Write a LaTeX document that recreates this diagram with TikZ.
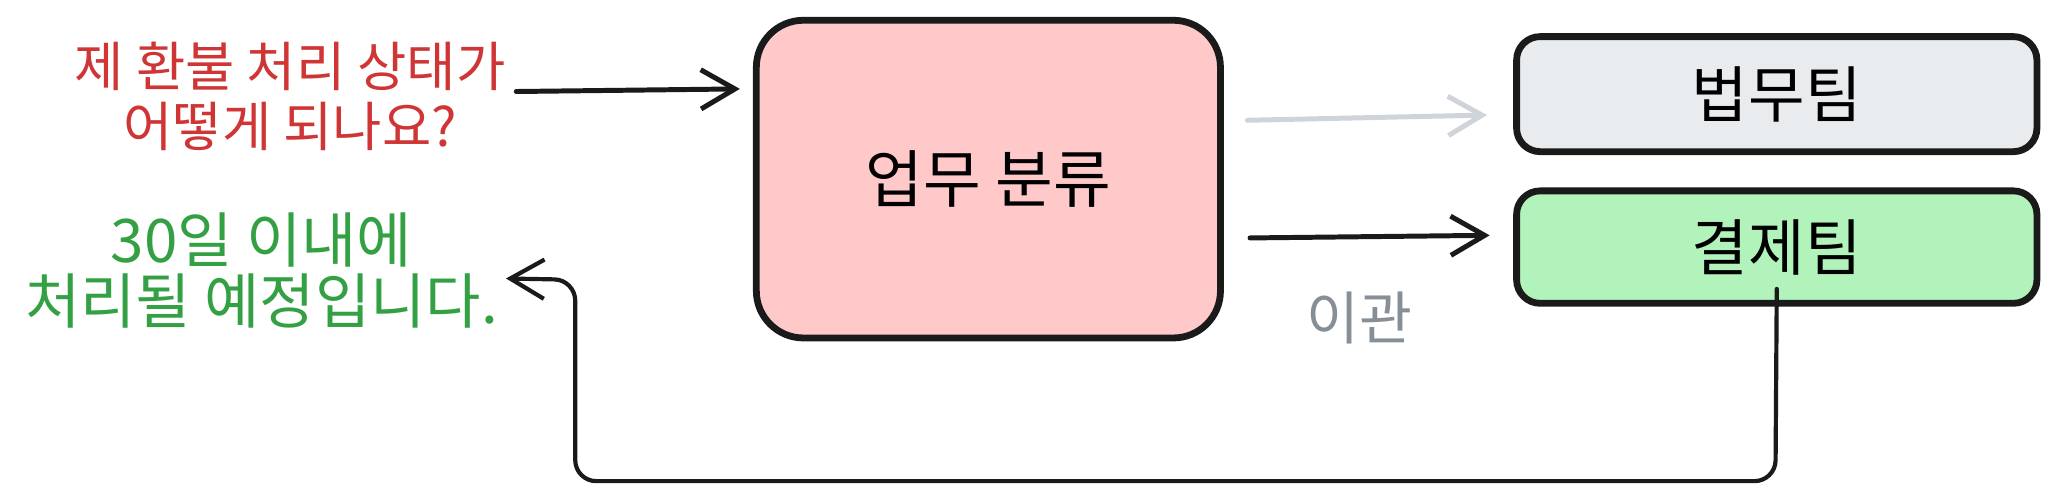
\documentclass[tikz,border=0pt]{standalone}
\usepackage{fontspec}
\setmainfont{Noto Sans CJK KR}
\usetikzlibrary{arrows.meta}
\definecolor{qred}{HTML}{D03535}
\definecolor{agreen}{HTML}{34A044}
\definecolor{pinkfill}{HTML}{FFC9C9}
\definecolor{grayfill}{HTML}{E9ECEF}
\definecolor{greenfill}{HTML}{B2F2BB}
\definecolor{lightarrow}{HTML}{CED4DA}
\definecolor{labelgray}{HTML}{868E96}
\definecolor{ink}{HTML}{1A1A1A}
\begin{document}
\begin{tikzpicture}[x=1pt,y=-1pt,
  box/.style={draw=ink, line width=5.2pt, rounded corners=#1, inner sep=0pt},
  arr/.style={line width=3.8pt, line cap=round, line join=round, draw=ink,
    -{Straight Barb[length=26pt,width=30pt]}},
  every node/.style={inner sep=0pt}]
\useasboundingbox (0,0) rectangle (1568,379.4);
\fill[white] (0,0) rectangle (1568,379.4);

\node[box=36pt, fill=pinkfill, minimum width=355pt, minimum height=243pt,
  font=\fontsize{48}{54}\selectfont] (sort) at (756,137) {업무 분류};
\node[box=18pt, fill=grayfill, minimum width=398pt, minimum height=88pt,
  font=\fontsize{47}{54}\selectfont] (legal) at (1359,72) {법무팀};
\node[box=18pt, fill=greenfill, minimum width=398pt, minimum height=86pt,
  font=\fontsize{47}{54}\selectfont] (pay) at (1359,189) {결제팀};

\node[align=center, text=qred, font=\fontsize{41}{46}\selectfont] (q) at (222,74)
  {제 환불 처리 상태가\\어떻게 되나요?};
\node[align=center, text=agreen, font=\fontsize{46}{47}\selectfont] (ans) at (200,207)
  {30일 이내에\\처리될 예정입니다.};

\node[text=labelgray, font=\fontsize{44}{50}\selectfont] (lbl) at (1040,243) {이관};

\draw[arr] ([xshift=8pt]q.east |- 0,70) -- ([xshift=-10pt]sort.west |- 0,68);
\draw[arr, draw=lightarrow] ([xshift=18pt]sort.east |- 0,92) -- ([xshift=-20pt]legal.west |- 0,88);
\draw[arr] ([xshift=20pt]sort.east |- 0,182) -- ([xshift=-18pt]pay.west |- 0,180);
\draw[arr, line width=3.2pt, rounded corners=16pt]
  ([yshift=11pt]pay.south |- 0,232) -- (1358,368) -- (440,368) -- (440,214)
  -- ([xshift=6pt]ans.east |- 0,213);
\end{tikzpicture}
\end{document}
